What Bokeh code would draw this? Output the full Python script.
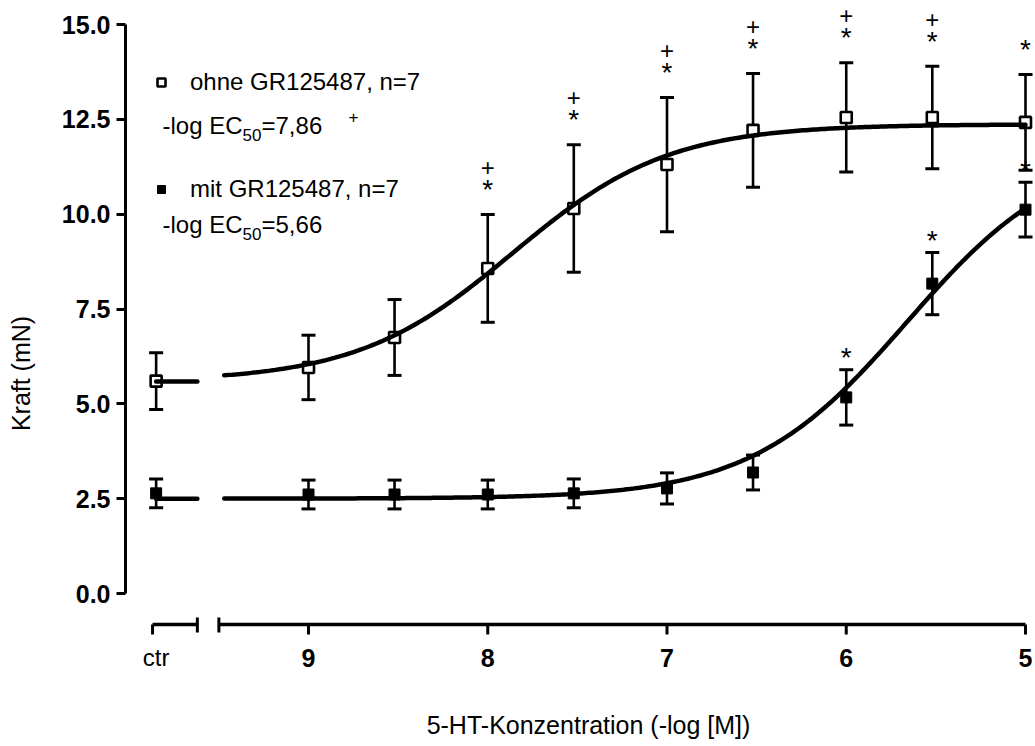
import numpy as np
from bokeh.plotting import figure
from bokeh.models import Range1d, FixedTicker, NumeralTickFormatter, Legend, LegendItem
from bokeh.core.properties import value
from bokeh.embed import file_html
from bokeh.resources import INLINE

# ---------------- data ----------------
conc_x = [9.0, 8.52, 8.0, 7.52, 7.0, 6.52, 6.0, 5.52, 5.0]      # -log [M]
ctr_x = 9.85

ohne_name = "ohne GR125487, n=7"
ohne_ctr, ohne_ctr_sem = 5.60, 0.75
ohne_mean = [5.96, 6.75, 8.57, 10.15, 11.31, 12.21, 12.55, 12.55, 12.42]
ohne_sem = [0.85, 1.00, 1.42, 1.68, 1.77, 1.50, 1.44, 1.35, 1.26]
ohne_bottom, ohne_top, ohne_logec50, ohne_hill = 5.59, 12.37, 7.86, 1.0

mit_name = "mit GR125487, n=7"
mit_ctr, mit_ctr_sem = 2.64, 0.38
mit_mean = [2.61, 2.61, 2.61, 2.64, 2.77, 3.19, 5.17, 8.17, 10.12]
mit_sem = [0.38, 0.38, 0.38, 0.38, 0.41, 0.46, 0.73, 0.82, 0.72]
mit_bottom, mit_top, mit_logec50, mit_hill = 2.50, 11.83, 5.66, 1.0

ohne_star_x = [8.0, 7.52, 7.0, 6.52, 6.0, 5.52, 5.0]
ohne_plus_x = [8.0, 7.52, 7.0, 6.52, 6.0, 5.52]
mit_star_x = [6.0, 5.52, 5.0]

x_ticks = [9, 8, 7, 6, 5]
x_tick_labels = ["9", "8", "7", "6", "5"]
ctr_label = "ctr"
y_ticks = [0, 2.5, 5, 7.5, 10, 12.5, 15]
x_title = "5-HT-Konzentration (-log [M])"
y_title = "Kraft (mN)"

# ---------------- layout constants ----------------
FONT = "Liberation Sans"
PAGE_OFF = 0
CANVAS_W, CANVAS_H = 1035, 746
X9_PX, PX_PER_X = 308.0, 179.25
Y0_PX, PX_PER_Y = 593.0, 37.93
FRAME_LEFT_PX = 125.0

X_LEFT = 9 + (X9_PX - FRAME_LEFT_PX) / PX_PER_X
X_RIGHT = 9 - (PAGE_OFF + CANVAS_W - X9_PX) / PX_PER_X
Y_TOP = (Y0_PX - PAGE_OFF) / PX_PER_Y
Y_BOTTOM = (Y0_PX - (PAGE_OFF + CANVAS_H)) / PX_PER_Y


def xd(px):
    return 9 - (px - X9_PX) / PX_PER_X


def yd(py):
    return (Y0_PX - py) / PX_PER_Y


def dy(pix):
    return pix / PX_PER_Y


AXIS_MAIN = (9.5, 5.0)
AXIS_CTR = (9.87, 9.62)
CURVE_START = 9.47
AX_Y = yd(624)

p = figure(width=CANVAS_W, height=CANVAS_H,
           x_range=Range1d(X_LEFT, X_RIGHT), y_range=Range1d(Y_BOTTOM, Y_TOP),
           output_backend="svg", toolbar_location=None, x_axis_location=None,
           min_border_left=int(FRAME_LEFT_PX - PAGE_OFF), min_border_right=0,
           min_border_top=0, min_border_bottom=0)
p.outline_line_color = None
p.grid.visible = False
p.background_fill_color = "white"
p.border_fill_color = "white"

# ---------------- y axis ----------------
yax = p.yaxis[0]
yax.bounds = (0, 15)
yax.ticker = FixedTicker(ticks=y_ticks)
yax.formatter = NumeralTickFormatter(format="0.0")
yax.axis_line_width = 3
yax.axis_line_color = "black"
yax.major_tick_line_width = 3
yax.major_tick_line_color = "black"
yax.major_tick_out = 9
yax.major_tick_in = 0
yax.minor_tick_line_color = None
yax.major_label_text_font = FONT
yax.major_label_text_font_style = "bold"
yax.major_label_text_font_size = "25px"
yax.major_label_text_color = "black"
yax.major_label_standoff = 6
yax.axis_label = y_title
yax.axis_label_text_font = FONT
yax.axis_label_text_font_style = "normal"
yax.axis_label_text_font_size = "25px"
yax.axis_label_text_color = "black"
yax.axis_label_standoff = 24

# ---------------- x axis (broken) drawn as glyphs ----------------
p.segment(x0=[AXIS_MAIN[0], AXIS_CTR[0]], y0=[AX_Y, AX_Y],
          x1=[AXIS_MAIN[1], AXIS_CTR[1]], y1=[AX_Y, AX_Y],
          line_width=3.5, line_color="black")
tick_x = x_ticks + [AXIS_CTR[0]]
p.segment(x0=tick_x, y0=[AX_Y] * len(tick_x), x1=tick_x,
          y1=[AX_Y - dy(10)] * len(tick_x), line_width=3, line_color="black")
p.segment(x0=[AXIS_CTR[1], AXIS_MAIN[0]], y0=[AX_Y + dy(7)] * 2,
          x1=[AXIS_CTR[1], AXIS_MAIN[0]], y1=[AX_Y - dy(8)] * 2,
          line_width=3, line_color="black")
p.text(x=x_ticks, y=[yd(657)] * len(x_ticks), text=x_tick_labels,
       text_font=value(FONT), text_font_style="bold", text_font_size="25px",
       text_align="center", text_baseline="middle", text_color="black")
p.text(x=[ctr_x], y=[yd(657)], text=[ctr_label], text_font=value(FONT),
       text_font_size="24px", text_align="center", text_baseline="middle",
       text_color="black")
p.text(x=[xd(588)], y=[yd(724)], text=[x_title], text_font=value(FONT),
       text_font_size="25px", text_align="center", text_baseline="middle",
       text_color="black")


# ---------------- series ----------------
def hill(x, bottom, top, logec50, h):
    x = np.asarray(x, dtype=float)
    return bottom + (top - bottom) / (1 + 10 ** (h * (x - logec50)))


renderers = {}
for name, ctr_m, ctr_s, mean, sem, bottom, top, lec, h, filled in [
    (ohne_name, ohne_ctr, ohne_ctr_sem, ohne_mean, ohne_sem, ohne_bottom, ohne_top, ohne_logec50, ohne_hill, False),
    (mit_name, mit_ctr, mit_ctr_sem, mit_mean, mit_sem, mit_bottom, mit_top, mit_logec50, mit_hill, True),
]:
    xs = [ctr_x] + conc_x
    ys = [ctr_m] + mean
    es = [ctr_s] + sem
    up = [a + b for a, b in zip(ys, es)]
    lo = [a - b for a, b in zip(ys, es)]
    p.segment(x0=xs, y0=lo, x1=xs, y1=up, line_width=2.6, line_color="black")
    p.scatter(x=xs + xs, y=up + lo, marker="dash", size=14, line_width=3,
              line_color="black")
    r = p.scatter(x=xs, y=ys, marker="square", size=11,
                  fill_color="black" if filled else "white",
                  line_color="black", line_width=1 if filled else 2.6)
    renderers[name] = r
    cx = np.linspace(CURVE_START, AXIS_MAIN[1], 300)
    p.line(cx, hill(cx, bottom, top, lec, h), line_width=4.5, line_color="black",
           line_cap="round")
    p.line([ctr_x, AXIS_CTR[1]], [bottom, bottom], line_width=4.5,
           line_color="black", line_cap="round")

# ---------------- significance marks ----------------
ohne_top_map = {x: m + s for x, m, s in zip(conc_x, ohne_mean, ohne_sem)}
mit_top_map = {x: m + s for x, m, s in zip(conc_x, mit_mean, mit_sem)}
p.text(x=ohne_star_x, y=[ohne_top_map[x] for x in ohne_star_x], text=["*"] * len(ohne_star_x),
       y_offset=-25, text_font=value(FONT), text_font_size="28px", text_align="center",
       text_baseline="middle", text_color="black")
p.text(x=ohne_plus_x, y=[ohne_top_map[x] for x in ohne_plus_x], text=["+"] * len(ohne_plus_x),
       y_offset=-47, text_font=value(FONT), text_font_size="24px", text_align="center",
       text_baseline="middle", text_color="black")
p.text(x=mit_star_x, y=[mit_top_map[x] for x in mit_star_x], text=["*"] * len(mit_star_x),
       y_offset=-12, text_font=value(FONT), text_font_size="28px", text_align="center",
       text_baseline="middle", text_color="black")

# ---------------- legend ----------------
legend = Legend(items=[LegendItem(label=ohne_name, renderers=[renderers[ohne_name]]),
                       LegendItem(label=mit_name, renderers=[renderers[mit_name]])],
                location=(26, 543), orientation="vertical", spacing=79, padding=0, margin=0,
                glyph_width=20, glyph_height=20, label_height=20, label_standoff=19,
                label_text_font=FONT, label_text_font_size="24px", label_text_color="black",
                border_line_color=None, background_fill_alpha=0)
p.add_layout(legend)


def ec_label(py_center, ec_value, plus):
    x0 = xd(162)
    yc = yd(py_center)
    parts = [("-log EC", 0, 0, "24px"), ("50", 80, 9, "17px"),
             ("=" + f"{ec_value:.2f}".replace(".", ","), 99, 0, "24px")]
    if plus:
        parts.append(("+", 186, -9, "17px"))
    for txt, xo, yo, fs in parts:
        p.text(x=[x0], y=[yc], text=[txt], x_offset=xo, y_offset=yo,
               text_font=value(FONT), text_font_size=fs, text_align="left",
               text_baseline="middle", text_color="black")


ec_label(125, ohne_logec50, True)
ec_label(224, mit_logec50, False)

open("out.html", "w").write(file_html(p, INLINE))
